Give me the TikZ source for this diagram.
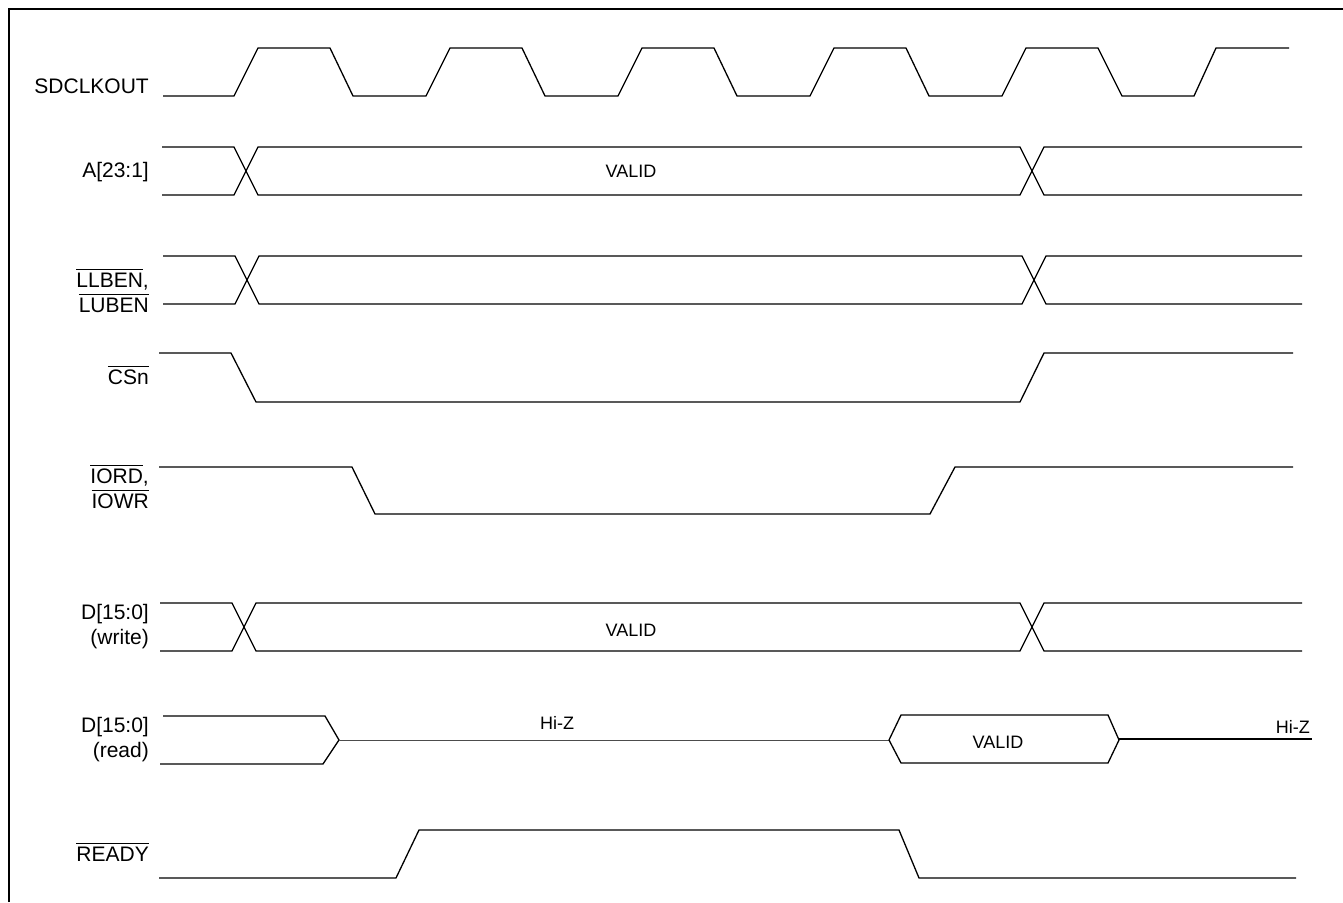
\documentclass[tikz,border=0pt]{standalone}
\usepackage{fontspec}
\setmainfont{Liberation Sans}
\newcommand\ovl[1]{\setbox0\hbox{#1}\rlap{\raisebox{\dimexpr\ht0+3pt\relax}{\rule{\wd0}{1.1pt}}}\box0}
\begin{document}
\begin{tikzpicture}[x=1pt,y=-1pt,
  wave/.style={line width=1.3pt, line join=miter},
  hiz/.style={line width=0.9pt, black!70},
  frame/.style={line width=2.5pt},
  lbl/.style={anchor=east, inner sep=0pt, align=right, font=\fontsize{21}{25}\selectfont},
  txt/.style={inner sep=0pt, font=\fontsize{18}{20}\selectfont}]
\path[use as bounding box] (0,0) rectangle (1343,902);
\draw[frame] (9,902) -- (9,9) -- (1343,9);

% labels
\node[lbl] (lclk) at (149,86) {SDCLKOUT};
\node[lbl] (laddr) at (149,172) {A[23:1]};
\node[lbl] (lben) at (149,291) {\ovl{LLBEN},\\\ovl{LUBEN}};
\node[lbl] (lcs) at (149,375) {\ovl{CSn}};
\node[lbl] (lio) at (149,487) {\ovl{IORD},\\\ovl{IOWR}};
\node[lbl] (ldw) at (149,627) {D[15:0]\\(write)};
\node[lbl] (ldr) at (149,740) {D[15:0]\\(read)};
\node[lbl] (lrdy) at (149,852) {\ovl{READY}};

% SDCLKOUT
\draw[wave] (163,96) -- (234,96) -- (258,48) -- (330,48) -- (353,96) -- (426,96) -- (450,48) -- (522,48) -- (545,96) -- (618,96) -- (642,48) -- (714,48) -- (737,96) -- (810,96) -- (834,48) -- (906,48) -- (929,96) -- (1002,96) -- (1026,48) -- (1098,48) -- (1122,96) -- (1194,96) -- (1216,48) -- (1289,48);

% A[23:1]
\draw[wave] (162,147) -- (234,147) -- (258,195) -- (1020,195) -- (1044,147) -- (1302,147);
\draw[wave] (162,195) -- (234,195) -- (258,147) -- (1020,147) -- (1044,195) -- (1302,195);
\node[txt] (vaddr) at (631,171) {VALID};

% LLBEN / LUBEN
\draw[wave] (163,256) -- (235,256) -- (259,304) -- (1022,304) -- (1046,256) -- (1302,256);
\draw[wave] (163,304) -- (235,304) -- (259,256) -- (1022,256) -- (1046,304) -- (1302,304);

% CSn
\draw[wave] (159,353) -- (231,353) -- (256,402) -- (1020,402) -- (1044,353) -- (1293,353);

% IORD / IOWR
\draw[wave] (159,467) -- (352,467) -- (375,514) -- (930,514) -- (955,467) -- (1293,467);

% D write
\draw[wave] (160,603) -- (232,603) -- (256,651) -- (1020,651) -- (1044,603) -- (1302,603);
\draw[wave] (160,651) -- (232,651) -- (256,603) -- (1020,603) -- (1044,651) -- (1302,651);
\node[txt] (vdw) at (631,630) {VALID};

% D read
\draw[wave] (163,716) -- (325,716) -- (339,740) -- (323,764) -- (160,764);
\draw[hiz] (339,740) -- (889,740);
\node[txt] (hz1) at (557,723) {Hi-Z};
\draw[wave] (889,740) -- (901,715) -- (1108,715) -- (1119,740) -- (1108,763) -- (901,763) -- cycle;
\node[txt] (vdr) at (998,742) {VALID};
\draw[wave] (1119,739) -- (1312,739);
\node[txt, anchor=south east] (hz2) at (1310,734) {Hi-Z};

% READY
\draw[wave] (159,878) -- (396,878) -- (419,830) -- (899,830) -- (919,878) -- (1296,878);
\end{tikzpicture}
\end{document}
